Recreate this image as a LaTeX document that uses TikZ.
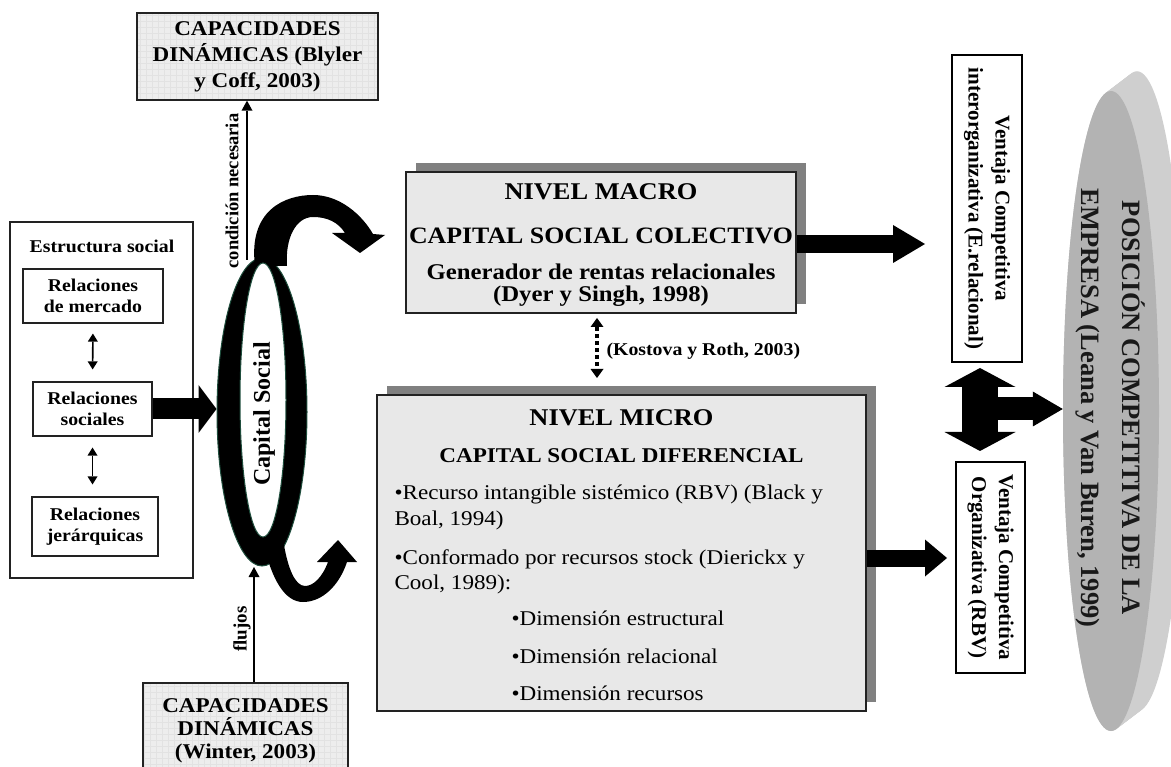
\documentclass[tikz,border=0pt]{standalone}
\usepackage{fontspec}
\setmainfont[FakeStretch=1.1]{Liberation Serif}
\newfontfamily\rotfont{Liberation Serif}
\usetikzlibrary{arrows.meta,shapes.geometric,shadows,calc}

\definecolor{panelgray}{HTML}{E8E8E8}
\definecolor{capgray}{HTML}{EDEDED}
\definecolor{gridgray}{HTML}{E2E2E2}
\definecolor{shadowgray}{HTML}{808080}
\definecolor{rimgray}{HTML}{CFCFCF}
\definecolor{facegray}{HTML}{B3B3B3}
\definecolor{ringedge}{HTML}{1E4D3C}
\definecolor{edge}{HTML}{222222}

\begin{document}
\begin{tikzpicture}[x=1pt,y=-1pt,
  size/.style 2 args={minimum width=#1,minimum height=#2,inner sep=0pt},
  plainbox/.style={draw=edge,line width=1.3pt,fill=white},
  innerbox/.style={draw=edge,line width=1.1pt,fill=white,align=center,
    font=\bfseries\fontsize{18}{20.5}\selectfont},
  capbox/.style={draw=edge,line width=1.3pt,fill=capgray,align=center,
    path picture={\draw[gridgray,line width=0.5pt]
      (path picture bounding box.south west) grid[step=6pt]
      (path picture bounding box.north east);}},
  panel/.style={draw=edge,line width=1.3pt,fill=panelgray,
    drop shadow={shadow xshift=10pt,shadow yshift=9pt,fill=shadowgray,opacity=1}},
  ventbox/.style={draw=black,line width=1.6pt,fill=white,rotate=-90,align=center,
    inner sep=0pt,font=\rotfont\bfseries\fontsize{21}{27}\selectfont},
  headline/.style={anchor=base,font=\bfseries\fontsize{24}{28}\selectfont},
  subline/.style={anchor=base,font=\bfseries\fontsize{22.5}{26}\selectfont},
  bodyline/.style={anchor=base west,font=\fontsize{21}{25}\selectfont},
  thinarrow/.style={line width=2.6pt,-{Triangle[length=10pt,width=11pt,line width=0pt]}},
  twoway/.style={line width=1.6pt,
    {Triangle[length=8pt,width=10pt,line width=0pt]}-{Triangle[length=8pt,width=10pt,line width=0pt]}},
]
\useasboundingbox (0,0) rectangle (1171,767);
\clip (0,0) rectangle (1171,767);

% ---------- competitive position disk (extruded ellipse) ----------
\foreach \t in {0,1,...,26}
  \fill[rimgray] (1111+\t,411-0.76*\t) ellipse [x radius=48, y radius=320];
\node[ellipse,fill=facegray,size={96}{640}] (disk) at (1111,411) {};
\node[rotate=-90,align=center,text=black!90,
  font=\rotfont\bfseries\fontsize{26.5}{41}\selectfont] (posT) at (1110,408)
  {POSICIÓN COMPETITIVA DE LA\\EMPRESA (Leana y Van Buren, 1999)};

% ---------- dynamic capabilities boxes ----------
\node[capbox,size={241}{87},font=\bfseries\fontsize{21}{26}\selectfont] (capA) at (257.5,56.5)
  {CAPACIDADES\\DINÁMICAS (Blyler\\y Coff, 2003)};
\node[capbox,size={205}{96},font=\bfseries\fontsize{21}{23}\selectfont] (capB) at (245.5,731)
  {CAPACIDADES\\DINÁMICAS\\(Winter, 2003)};

% ---------- social structure ----------
\node[plainbox,size={183}{356}] (struct) at (101.5,400) {};
\node[anchor=base,font=\bfseries\fontsize{18}{21}\selectfont] (structT) at (102,253) {Estructura social};
\node[innerbox,size={140}{54}] (mercado) at (93,296) {Relaciones\\de mercado};
\node[innerbox,size={119}{54}] (sociales) at (92.5,409) {Relaciones\\sociales};
\node[innerbox,size={126}{59}] (jerarq) at (95,526.5) {Relaciones\\jerárquicas};
\draw[twoway,shorten <=10pt,shorten >=12pt] (mercado.south) -- (sociales.north);
\draw[twoway,shorten <=11pt,shorten >=12pt] (sociales.south) -- (sociales.south |- jerarq.north);

% ---------- social capital ring ----------
\node[ellipse,fill=black,draw=ringedge,line width=1pt,size={90}{308}] (ring) at (262,412) {};
% upper rotating arrow
\fill[black] (255,266) .. controls (248,210) and (285,195) .. (313,195)
  .. controls (340,195) and (362,215) .. (373,234) -- (385,235) -- (360,253)
  -- (332,233) -- (345,233) .. controls (338,222) and (327,217) .. (313,217)
  .. controls (296,217) and (285,238) .. (287,266) -- cycle;
% lower rotating arrow
\fill[black] (264,545) .. controls (272,580) and (285,602) .. (303,602)
  .. controls (322,602) and (339,586) .. (347,562) -- (357,562) -- (338,540)
  -- (317,562) -- (328,562) .. controls (322,578) and (313,586) .. (305,586)
  .. controls (295,586) and (288,568) .. (284,545) -- cycle;
\node[ellipse,fill=white,draw=ringedge,line width=1pt,size={46}{274}] (hole) at (263,400) {};
\node[rotate=90,font=\rotfont\bfseries\fontsize{24}{28}\selectfont] (capT) at (264,414) {Capital Social};

% structure feeds the ring
\draw[line width=21pt,-{Triangle[length=18pt,width=48pt,line width=0pt]}]
  (sociales.east) -- (sociales.east -| ring.west);

% necessary condition and flows
\coordinate (cn) at (247,260);
\draw[thinarrow] (cn) -- (cn |- capA.south);
\node[rotate=90,font=\rotfont\bfseries\fontsize{18.5}{22}\selectfont] (condT) at (232,191) {condición necesaria};
\coordinate (fl) at (254,567);
\draw[thinarrow] (capB.north -| fl) -- (fl);
\node[rotate=90,font=\rotfont\bfseries\fontsize{19}{22}\selectfont] (flT) at (242,629) {flujos};

% ---------- macro level ----------
\node[panel,size={390}{141}] (macro) at (601,242.5) {};
\node[headline] (macroA) at (601,200) {NIVEL MACRO};
\node[subline,font=\bfseries\fontsize{23.5}{26}\selectfont] (macroB) at (601,244) {CAPITAL SOCIAL COLECTIVO};
\node[subline] (macroC) at (601,280) {Generador de rentas relacionales};
\node[subline] (macroD) at (601,302) {(Dyer y Singh, 1998)};

% ---------- micro level ----------
\node[panel,size={489}{316}] (micro) at (621.5,553) {};
\node[headline] (microA) at (621.5,425) {NIVEL MICRO};
\node[subline,font=\bfseries\fontsize{21}{25}\selectfont] (microB) at (621.5,462) {CAPITAL SOCIAL DIFERENCIAL};
\node[bodyline] (microC) at (391,500) {•Recurso intangible sistémico (RBV) (Black y};
\node[bodyline] (microD) at (391,525) {Boal, 1994)};
\node[bodyline] (microE) at (391,564) {•Conformado por recursos stock (Dierickx y};
\node[bodyline] (microF) at (391,589) {Cool, 1989):};
\node[bodyline] (microG) at (508,625) {•Dimensión estructural};
\node[bodyline] (microH) at (508,663) {•Dimensión relacional};
\node[bodyline] (microI) at (508,700) {•Dimensión recursos};

% link between levels
\coordinate (k1) at (597,318);
\coordinate (k2) at (597,378);
\draw[line width=3.5pt,dash pattern=on 4pt off 3pt,
  {Triangle[length=9pt,width=13pt,line width=0pt]}-{Triangle[length=9pt,width=13pt,line width=0pt]}] (k1) -- (k2);
\node[anchor=base west,font=\bfseries\fontsize{18}{21}\selectfont] (kostT) at (603,356) {(Kostova y Roth, 2003)};

% ---------- competitive advantages ----------
\node[ventbox,size={307}{70}] (vent1) at (987,208.5) {Ventaja Competitiva\\interorganizativa (E.relacional)};
\node[ventbox,size={211}{69}] (vent2) at (990.5,567.5) {Ventaja Competitiva\\Organizativa (RBV)};

\coordinate (macroTip) at (925,244);
\draw[line width=18pt,-{Triangle[length=32pt,width=38pt,line width=0pt]}]
  (macro.east |- macroTip) -- (macroTip);
\coordinate (microTip) at (947,558);
\draw[line width=17pt,-{Triangle[length=22pt,width=37pt,line width=0pt]}]
  (micro.east |- microTip) -- (microTip);

\coordinate (vTop) at (980,368);
\coordinate (vBot) at (980,451);
\draw[line width=36pt,
  {Triangle[length=19pt,width=71pt,line width=0pt]}-{Triangle[length=19pt,width=71pt,line width=0pt]}]
  (vTop) -- (vBot);
\draw[line width=23pt,-{Triangle[length=30pt,width=35pt,line width=0pt]}]
  (980,409) -- (disk.west |- 0,409);
\end{tikzpicture}
\end{document}
